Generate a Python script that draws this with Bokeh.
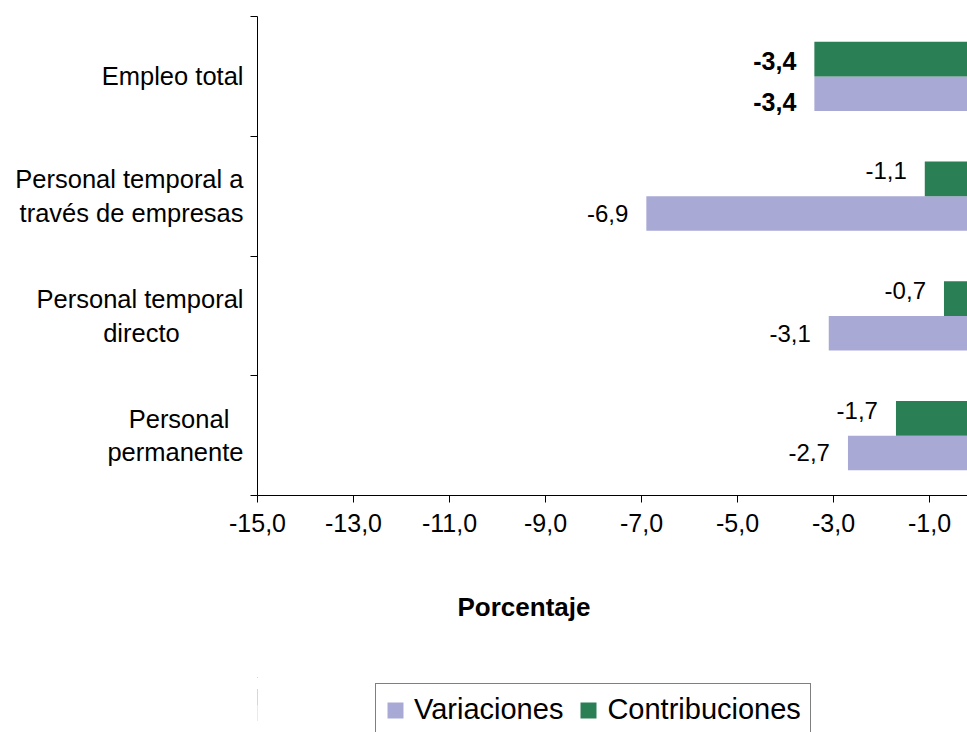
from bokeh.plotting import figure
from bokeh.models import ColumnDataSource, FixedTicker, Legend, LegendItem, Title, Range1d
from bokeh.layouts import column
from bokeh.embed import file_html
from bokeh.resources import INLINE
from bokeh.core.properties import value

# ---- data (bottom to top) ----
NB = "\u00a0"
categories = ["Personal" + NB * 2 + "\npermanente",
              "Personal temporal\ndirecto" + NB * 9,
              "Personal temporal a\ntravés de empresas",
              "Empleo total"]
variaciones = [-2.7, -3.1, -6.9, -3.4]
contribuciones = [-1.7, -0.7, -1.1, -3.4]
x_ticks = [-15, -13, -11, -9, -7, -5, -3, -1]
x_tick_labels = ["-15,0", "-13,0", "-11,0", "-9,0", "-7,0", "-5,0", "-3,0", "-1,0"]
series_names = ["Variaciones", "Contribuciones"]
x_title = "Porcentaje"

FONT = "Liberation Sans"
VAR_COLOR = "#a9a9d6"
CON_COLOR = "#2b7f55"
BAR_H = 0.29

def fmt(v):
    return f"{v:.1f}".replace(".", ",")

pos = [i + 0.5 for i in range(len(categories))]
var_y = [p_ - BAR_H / 2 for p_ in pos]
con_y = [p_ + BAR_H / 2 for p_ in pos]

src_var = ColumnDataSource(dict(y=var_y, v=variaciones, lab=[fmt(v) for v in variaciones]))
src_con = ColumnDataSource(dict(y=con_y, v=contribuciones, lab=[fmt(v) for v in contribuciones]))

p = figure(width=967, height=677, output_backend="svg", toolbar_location=None,
           x_range=Range1d(-15, -0.21), y_range=Range1d(0, 4),
           min_border_left=257, min_border_right=0, min_border_top=16, min_border_bottom=181)
p.outline_line_color = None
p.grid.visible = False
p.background_fill_color = "white"

r_var = p.hbar(y="y", left=0, right="v", height=BAR_H, source=src_var,
               fill_color=VAR_COLOR, line_color=None)
r_con = p.hbar(y="y", left=0, right="v", height=BAR_H, source=src_con,
               fill_color=CON_COLOR, line_color=None)

# data labels: regular rows and bold total row
n = len(categories)
reg = list(range(n - 1))
tot = [n - 1]

def sub(src, idx):
    d = src.data
    return ColumnDataSource(dict(y=[d["y"][i] for i in idx], v=[d["v"][i] for i in idx],
                                 lab=[d["lab"][i] for i in idx]))

common = dict(x="v", text="lab", text_align="right", text_baseline="middle",
              text_font=value(FONT), text_color="black", x_offset=-18)
p.text(y="y", source=sub(src_con, reg), y_offset=-8, text_font_size="24px", **common)
p.text(y="y", source=sub(src_var, reg), y_offset=0, text_font_size="24px", **common)
p.text(y="y", source=sub(src_con, tot), y_offset=2, text_font_size="25px",
       text_font_style="bold", **common)
p.text(y="y", source=sub(src_var, tot), y_offset=8, text_font_size="25px",
       text_font_style="bold", **common)

# x axis
xa = p.xaxis[0]
xa.ticker = FixedTicker(ticks=x_ticks)
xa.major_label_overrides = {t: l for t, l in zip(x_ticks, x_tick_labels)}
xa.major_label_text_font = FONT
xa.major_label_text_font_size = "25px"
xa.major_label_text_color = "black"
xa.major_tick_out = 7
xa.major_tick_in = 0
xa.minor_tick_out = 0
xa.major_label_standoff = 11
xa.axis_line_color = "black"
xa.major_tick_line_color = "black"

# y axis
ya = p.yaxis[0]
ya.ticker = FixedTicker(ticks=pos, minor_ticks=list(range(n + 1)))
ya.major_label_overrides = {t: c for t, c in zip(pos, categories)}
ya.major_label_text_font = FONT
ya.major_label_text_font_size = "25.5px"
ya.major_label_text_color = "black"
ya.major_tick_out = 0
ya.major_tick_in = 0
ya.minor_tick_out = 7
ya.minor_tick_in = 0
ya.minor_tick_line_color = "black"
ya.major_label_standoff = 7
ya.axis_line_color = "black"

# axis title (below the axis, offset like the original)
p.add_layout(Title(text=x_title, align="left", offset=200, standoff=111,
                   text_font=FONT, text_font_size="26px", text_font_style="bold",
                   text_color="black"), "below")

# ---- legend strip (same sources, drawn outside its visible range) ----
lg = figure(width=967, height=55, output_backend="svg", toolbar_location=None,
            x_axis_type=None, y_axis_type=None, x_range=Range1d(5, 6), y_range=Range1d(0, 1),
            min_border=0, min_border_left=0, min_border_right=0,
            min_border_top=0, min_border_bottom=0)
lg.outline_line_color = None
lg.background_fill_color = None
lg.grid.visible = False
l_var = lg.hbar(y="y", left=0, right="v", height=BAR_H, source=src_var,
                fill_color=VAR_COLOR, line_color=None)
l_con = lg.hbar(y="y", left=0, right="v", height=BAR_H, source=src_con,
                fill_color=CON_COLOR, line_color=None)

legend = Legend(items=[LegendItem(label=series_names[0], renderers=[l_var], index=0),
                       LegendItem(label=series_names[1], renderers=[l_con], index=0)],
                orientation="horizontal", location=(118, -4),
                label_text_font=FONT, label_text_font_size="29px",
                label_text_color="black", glyph_width=20, glyph_height=20,
                label_standoff=9, spacing=15, padding=9, margin=0,
                border_line_color="black", border_line_width=1,
                background_fill_color="white")
lg.add_layout(legend, "center")

layout = column(p, lg, spacing=0)
open("out.html", "w").write(file_html(layout, INLINE))
